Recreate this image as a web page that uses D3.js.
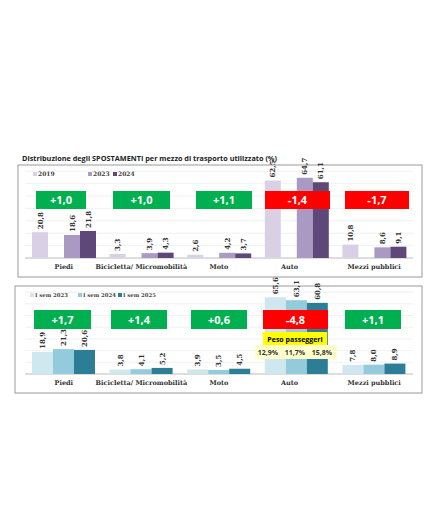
<!DOCTYPE html><html><head><meta charset="utf-8"><script src="https://cdn.jsdelivr.net/npm/d3@7"></script>
<style>body{margin:0;background:#fff}</style></head><body><svg id="c" width="430" height="522"></svg>
<script>
const categories=["Piedi","Bicicletta/ Micromobilità","Moto","Auto","Mezzi pubblici"];
const seriesTop=["2019","2023","2024"];
const v2019=[20.8,3.3,2.6,62.5,10.8];
const v2023=[18.6,3.9,4.2,64.7,8.6];
const v2024=[21.8,4.3,3.7,61.1,9.1];
const deltaTop=["+1,0","+1,0","+1,1","-1,4","-1,7"];
const seriesBot=["I sem 2023","I sem 2024","I sem 2025"];
const s2023=[18.9,3.8,3.9,65.6,7.8];
const s2024=[21.3,4.1,3.5,63.1,8.0];
const s2025=[20.6,5.2,4.5,60.8,8.9];
const deltaBot=["+1,7","+1,4","+0,6","-4,8","+1,1"];
const pesoLabels=["12,9%","11,7%","15,8%"];
const svg=d3.select("#c");
const serif="'DejaVu Serif','Liberation Serif',serif", sans="'Open Sans','DejaVu Sans',sans-serif";
svg.append("text").attr("x",22).attr("y",161).attr("font-family",sans).attr("font-weight","bold").attr("font-size",7.3).attr("fill","#222").text("Distribuzione degli SPOSTAMENTI per mezzo di trasporto utilizzato (%)");
function panel(o){
  const g=svg.append("g");
  g.append("rect").attr("x",o.box[0]).attr("y",o.box[1]).attr("width",o.box[2]).attr("height",o.box[3]).attr("fill","#fff").attr("stroke","#999").attr("stroke-width",1);
  const x=d3.scaleBand().domain(categories).range([25,413]);
  const y=d3.scaleLinear().domain([0,70]).range([o.base,o.base-70*o.k]);
  y.ticks(7).forEach(t=>g.append("line").attr("x1",25).attr("x2",413).attr("y1",y(t)).attr("y2",y(t)).attr("stroke",t?"#eee":"#bbb").attr("stroke-width",t?0.8:1.2));
  const sub=d3.scaleBand().domain(o.slots).range([7,7+o.subW*o.slots.length]);
  o.series.forEach((s,si)=>{
    o.vals[si].forEach((v,i)=>{
      const bx=x(categories[i])+sub(s);
      g.append("rect").attr("x",bx).attr("y",y(v)).attr("width",sub.bandwidth()).attr("height",y(0)-y(v)).attr("fill",o.colors[si]);
      g.append("text").attr("transform",`translate(${bx+sub.bandwidth()/2+2.5},${y(v)-3}) rotate(-90)`).attr("font-family",serif).attr("font-weight","bold").attr("font-size",7).attr("fill","#333").text(String(v.toFixed(1)).replace(".",","));
    });
  });
  categories.forEach((c,i)=>g.append("text").attr("x",x(c)+x.bandwidth()/2+(i==3?-7:0)).attr("y",o.base+11).attr("text-anchor","middle").attr("font-family",serif).attr("font-weight","bold").attr("font-size",6.5).attr("fill","#333").text(c));
  o.deltas.forEach((d,i)=>{const b=o.dbox[i];
    g.append("rect").attr("x",b[0]).attr("y",o.dy).attr("width",b[1]-b[0]).attr("height",o.dh).attr("fill",d[0]=="-"?"#ff0000":"#00b050");
    g.append("text").attr("x",(b[0]+b[1])/2).attr("y",o.dy+o.dh/2+4).attr("text-anchor","middle").attr("font-family",sans).attr("font-weight","bold").attr("font-size",11).attr("fill","#fff").text(d);});
  o.legX.forEach((lx,i)=>{g.append("rect").attr("x",lx).attr("y",o.legY-4).attr("width",4).attr("height",4).attr("fill",o.colors[i]);
    g.append("text").attr("x",lx+5).attr("y",o.legY).attr("font-family",serif).attr("font-weight","bold").attr("font-size",o.legF).attr("fill","#444").text(o.series[i]);});
  return {x,y,g};
}
panel({box:[18,165,404,112],base:258,k:1.24,series:seriesTop,vals:[v2019,v2023,v2024],slots:["2019","gap","2023","2024"],subW:16,
 colors:["#d9d0e5","#a999c3","#5d4879"],deltas:deltaTop,dbox:[[36,86],[113,170],[196,252],[265,330],[345,409]],dy:191,dh:18,legX:[33,88,113],legY:176,legF:6});
const p=panel({box:[15,286,407,107],base:374,k:1.17,series:seriesBot,vals:[s2023,s2024,s2025],slots:seriesBot,subW:21,
 colors:["#cfe7ef","#93cbdc","#2b7e95"],deltas:deltaBot,dbox:[[34,91],[111,167],[191,247],[263,328],[345,401]],dy:310,dh:19,legX:[30,78,118],legY:297,legF:5.3});
p.g.append("rect").attr("x",263).attr("y",332).attr("width",64).attr("height",13).attr("fill","#ffff00");
p.g.append("text").attr("x",295).attr("y",341.5).attr("text-anchor","middle").attr("font-family",sans).attr("font-weight","bold").attr("font-size",7).text("Peso passeggeri");
p.g.append("rect").attr("x",255).attr("y",345).attr("width",82).attr("height",14).attr("fill","#ffffcc");
pesoLabels.forEach((t,i)=>p.g.append("text").attr("x",268+i*27).attr("y",355).attr("text-anchor","middle").attr("font-family",sans).attr("font-weight","bold").attr("font-size",7).attr("fill","#333").text(t));
</script></body></html>
